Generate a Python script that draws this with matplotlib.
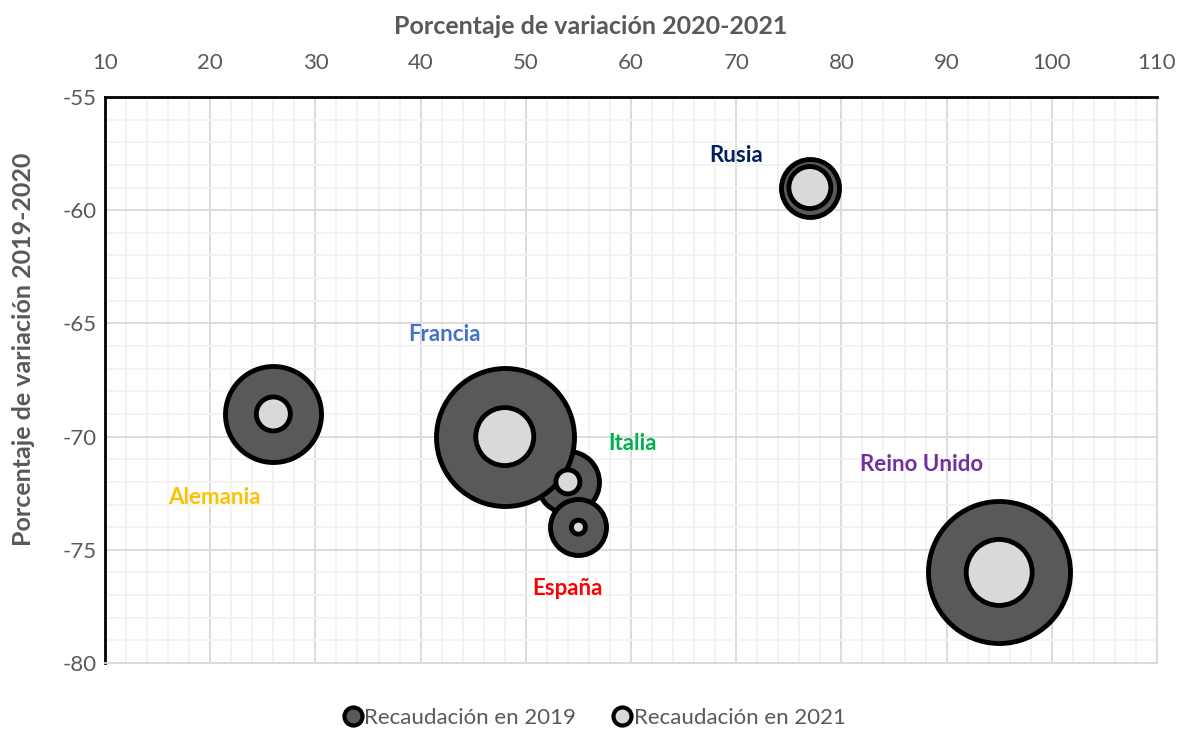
import matplotlib.pyplot as plt
import numpy as np
from matplotlib.lines import Line2D
from matplotlib.ticker import MultipleLocator

plt.rcParams['font.family'] = ['Lato', 'DejaVu Sans']
plt.rcParams['axes.unicode_minus'] = False

# Data
paises = ['Alemania', 'Italia', 'Francia', 'España', 'Rusia', 'Reino Unido']
var_2020_2021 = [26, 54, 48, 55, 77, 95]
var_2019_2020 = [-69, -72, -70, -74, -59, -76]
recaudacion_2019 = [960, 620, 1380, 560, 580, 1420]
recaudacion_2021 = [340, 240, 580, 140, 420, 660]
colores = ['#FFC000', '#00B050', '#4472C4', '#FF0000', '#002060', '#7030A0']
etiqueta_x = [20.4, 60.1, 42.3, 54.0, 70.0, 87.6]
etiqueta_y = [-72.7, -70.3, -65.5, -76.7, -57.6, -71.25]

DPI = 100
GRIS = '#595959'


def bubble_size(values):
    # bubble width proportional to value (Excel "width" sizing)
    diam_pt = np.asarray(values) / 10 * 72 / DPI
    return diam_pt ** 2


fig = plt.figure(figsize=(11.8, 7.33), dpi=DPI)
ax = fig.add_axes([0.089, 0.0955, 0.8915, 0.7722])

ax.set_xlim(10, 110)
ax.set_ylim(-80, -55)
ax.xaxis.set_major_locator(MultipleLocator(10))
ax.xaxis.set_minor_locator(MultipleLocator(2))
ax.yaxis.set_major_locator(MultipleLocator(5))
ax.yaxis.set_minor_locator(MultipleLocator(1))
ax.grid(which='major', color='#D9D9D9', linewidth=1.3, zorder=0)
ax.grid(which='minor', color='#F2F2F2', linewidth=1.3, zorder=0)
ax.set_axisbelow(True)

ax.xaxis.tick_top()
ax.xaxis.set_label_position('top')
ax.tick_params(which='both', length=0, labelsize=16, labelcolor=GRIS)
ax.tick_params(axis='x', pad=17)
ax.tick_params(axis='y', pad=6)

for side in ['top', 'left']:
    ax.spines[side].set_color('black')
    ax.spines[side].set_linewidth(2)
for side in ['bottom', 'right']:
    ax.spines[side].set_color('#D9D9D9')
    ax.spines[side].set_linewidth(1.3)

ax.set_xlabel('Porcentaje de variación 2020-2021', fontsize=18, fontweight='bold',
              color=GRIS, labelpad=14)
ax.set_ylabel('Porcentaje de variación 2019-2020', fontsize=18, fontweight='bold',
              color=GRIS, labelpad=20)
# titles sit a bit off the plot centre, as in the original
ax.xaxis.label.set_x(0.462)
ax.yaxis.label.set_y(0.555)

s19 = bubble_size(recaudacion_2019)
s21 = bubble_size(recaudacion_2021)
for i in range(len(paises)):
    ax.scatter(var_2020_2021[i], var_2019_2020[i], s=s19[i], c='#595959',
               edgecolors='black', linewidths=3.5, zorder=3 + i * 0.01)
ax.scatter(var_2020_2021, var_2019_2020, s=s21, c='#D9D9D9',
           edgecolors='black', linewidths=3.5, zorder=4)

for i, p in enumerate(paises):
    ax.text(etiqueta_x[i], etiqueta_y[i], p, color=colores[i], fontsize=16,
            fontweight='bold', ha='center', va='center', zorder=5)

handles = [
    Line2D([], [], marker='o', linestyle='', markersize=13, markerfacecolor='#595959',
           markeredgecolor='black', markeredgewidth=3, label='Recaudación en 2019'),
    Line2D([], [], marker='o', linestyle='', markersize=13, markerfacecolor='#D9D9D9',
           markeredgecolor='black', markeredgewidth=3, label='Recaudación en 2021'),
]
leg = fig.legend(handles=handles, loc='center', bbox_to_anchor=(0.503, 0.021), ncol=2,
                 frameon=False, fontsize=16, handletextpad=0.0, columnspacing=1.6,
                 handlelength=1.0)
for t in leg.get_texts():
    t.set_color(GRIS)

fig.savefig('out.png', dpi=DPI)
